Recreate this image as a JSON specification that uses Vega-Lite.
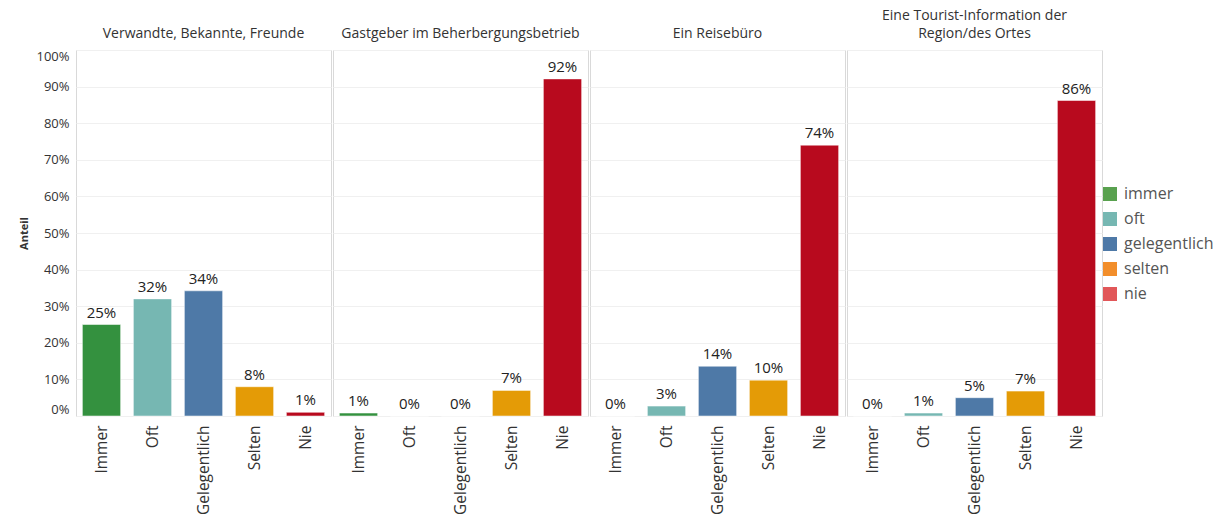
{
  "$schema": "https://vega.github.io/schema/vega-lite/v6.json",
  "padding": {"left": 18, "top": 9, "right": 0, "bottom": 0},
  "background": "white",
  "data": {"values": [
    {"g": "Verwandte, Bekannte, Freunde", "k": "Immer", "l": "immer", "v": 0.25},
    {"g": "Verwandte, Bekannte, Freunde", "k": "Oft", "l": "oft", "v": 0.32},
    {"g": "Verwandte, Bekannte, Freunde", "k": "Gelegentlich", "l": "gelegentlich", "v": 0.342},
    {"g": "Verwandte, Bekannte, Freunde", "k": "Selten", "l": "selten", "v": 0.08},
    {"g": "Verwandte, Bekannte, Freunde", "k": "Nie", "l": "nie", "v": 0.01},
    {"g": "Gastgeber im Beherbergungsbetrieb", "k": "Immer", "l": "immer", "v": 0.008},
    {"g": "Gastgeber im Beherbergungsbetrieb", "k": "Oft", "l": "oft", "v": 0.0},
    {"g": "Gastgeber im Beherbergungsbetrieb", "k": "Gelegentlich", "l": "gelegentlich", "v": 0.0},
    {"g": "Gastgeber im Beherbergungsbetrieb", "k": "Selten", "l": "selten", "v": 0.07},
    {"g": "Gastgeber im Beherbergungsbetrieb", "k": "Nie", "l": "nie", "v": 0.921},
    {"g": "Ein Reisebüro", "k": "Immer", "l": "immer", "v": 0.0},
    {"g": "Ein Reisebüro", "k": "Oft", "l": "oft", "v": 0.027},
    {"g": "Ein Reisebüro", "k": "Gelegentlich", "l": "gelegentlich", "v": 0.136},
    {"g": "Ein Reisebüro", "k": "Selten", "l": "selten", "v": 0.098},
    {"g": "Ein Reisebüro", "k": "Nie", "l": "nie", "v": 0.74},
    {"g": "Eine Tourist-Information der Region/des Ortes", "k": "Immer", "l": "immer", "v": 0.0},
    {"g": "Eine Tourist-Information der Region/des Ortes", "k": "Oft", "l": "oft", "v": 0.008},
    {"g": "Eine Tourist-Information der Region/des Ortes", "k": "Gelegentlich", "l": "gelegentlich", "v": 0.05},
    {"g": "Eine Tourist-Information der Region/des Ortes", "k": "Selten", "l": "selten", "v": 0.068},
    {"g": "Eine Tourist-Information der Region/des Ortes", "k": "Nie", "l": "nie", "v": 0.862}
  ]},
  "facet": {
    "column": {
      "field": "g",
      "type": "nominal",
      "sort": ["Verwandte, Bekannte, Freunde", "Gastgeber im Beherbergungsbetrieb", "Ein Reisebüro", "Eine Tourist-Information der Region/des Ortes"],
      "title": null,
      "header": {
        "labelOrient": "top",
        "labelFontSize": 14,
        "labelColor": "#333333",
        "labelBaseline": "middle",
        "labelPadding": 1,
        "labelLineHeight": 18,
        "labelExpr": "datum.value == 'Eine Tourist-Information der Region/des Ortes' ? ['Eine Tourist-Information der', 'Region/des Ortes'] : datum.value"
      }
    }
  },
  "spacing": 0,
  "spec": {
    "width": 255,
    "height": 366,
    "encoding": {
      "x": {
        "field": "k",
        "type": "nominal",
        "sort": ["Immer", "Oft", "Gelegentlich", "Selten", "Nie"],
        "title": null,
        "scale": {"paddingInner": 0.25, "paddingOuter": 0.125},
        "axis": {
          "labelAngle": -90,
          "labelAlign": "right",
          "labelBaseline": "middle",
          "labelFontSize": 15.5,
          "labelColor": "#333333",
          "labelPadding": 5,
          "ticks": false,
          "domain": false
        }
      },
      "y": {
        "field": "v",
        "type": "quantitative",
        "title": "Anteil",
        "scale": {"domain": [0, 1], "nice": false},
        "axis": {
          "format": ".0%",
          "values": [0, 0.1, 0.2, 0.3, 0.4, 0.5, 0.6, 0.7, 0.8, 0.9, 1],
          "labelOverlap": false,
          "labelFontSize": 13,
          "labelColor": "#333333",
          "labelFlush": true,
          "labelPadding": 6,
          "ticks": false,
          "domain": false,
          "grid": true,
          "gridColor": "#f0f0f0",
          "titleFontSize": 11,
          "titleFontWeight": "bold",
          "titleColor": "#333333",
          "titlePadding": 6
        }
      }
    },
    "layer": [
      {
        "mark": {"type": "bar", "stroke": "white", "strokeWidth": 0.5},
        "encoding": {
          "fill": {
            "field": "k",
            "type": "nominal",
            "sort": ["Immer", "Oft", "Gelegentlich", "Selten", "Nie"],
            "scale": {"domain": ["Immer", "Oft", "Gelegentlich", "Selten", "Nie"], "range": ["#34913F", "#76B7B2", "#4E79A7", "#E49B06", "#B80A1E"]},
            "legend": null
          }
        }
      },
      {
        "mark": {"type": "text", "baseline": "bottom", "dy": -4, "fontSize": 15, "color": "#222222"},
        "encoding": {
          "text": {"field": "v", "type": "quantitative", "format": ".0%"}
        }
      },
      {
        "mark": {"type": "point", "filled": true, "opacity": 0, "shape": "square"},
        "encoding": {
          "color": {
            "field": "l",
            "type": "nominal",
            "scale": {"domain": ["immer", "oft", "gelegentlich", "selten", "nie"], "range": ["#59A14F", "#76B7B2", "#4E79A7", "#F28E2B", "#E15759"]},
            "legend": {
              "title": null,
              "orient": "none",
              "legendX": 1026,
              "legendY": 136,
              "symbolType": "square",
              "symbolSize": 196,
              "symbolOpacity": 1,
              "symbolStrokeWidth": 0,
              "labelFontSize": 16,
              "labelColor": "#555555",
              "rowPadding": 9,
              "labelOffset": 6
            }
          }
        }
      }
    ]
  },
  "config": {
    "font": "Open Sans",
    "view": {"stroke": "#d9d9d9", "strokeWidth": 1},
    "axis": {"labelFont": "Open Sans", "titleFont": "Open Sans"}
  }
}
